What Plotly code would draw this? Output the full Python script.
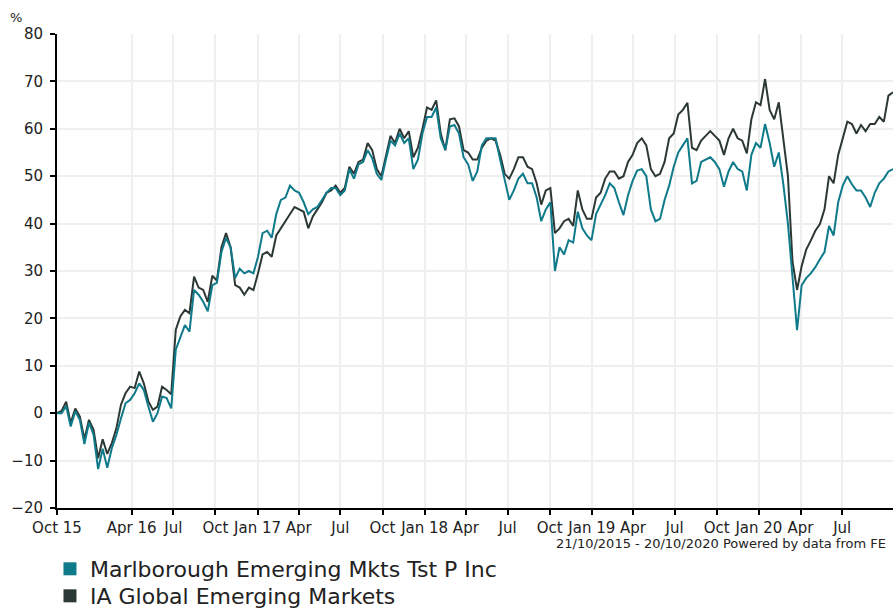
import pandas as pd
import plotly.graph_objects as go

# ---- data (~10-day sampling) ----
start_date = "2015-10-21"
end_date = "2020-10-20"

ia_global_em = [
    0, 0.5, 2.4, -2.1, 1.0, -0.7, -5.5, -1.4, -3.5, -9.5,
    -5.5, -8.6, -6.3, -3.2, 1.8, 4.2, 5.6, 5.3, 8.8, 6.3,
    2.5, 0.7, 1.4, 5.6, 4.9, 4.0, 17.6, 20.4, 21.8, 21.1,
    28.8, 26.5, 26, 23.5, 29, 28, 35, 38, 35, 27,
    26.5, 25, 26.5, 26, 29.5, 33.5, 34, 33, 37.5, 39,
    40.3, 42, 43.5, 43, 42.5, 39, 41.5, 43, 44.5, 46.5,
    47, 48, 46.5, 47.5, 52, 50.5, 53, 53.5, 57, 55.5,
    51.5, 50, 54.5, 58.5, 57, 60, 58, 59.5, 54, 56,
    60, 64.5, 64, 66, 59, 55.5, 62, 62.2, 60.5, 55.5,
    55, 53.5, 53.5, 56, 57.5, 58, 57.5, 54.5, 50.5, 49.5,
    51.5, 54, 54, 52, 51.5, 48.5, 44, 47, 47.5, 38,
    39, 40.5, 41, 39.5, 47, 43, 41, 41, 45.5, 46.5,
    49.5, 51, 51, 49.5, 50, 53, 54.5, 57, 58, 56.5,
    51.5, 50, 50.5, 53, 58, 59, 63, 64, 65.5, 56,
    55.5, 57.5, 58.5, 59.5, 58.5, 57.5, 54.5, 58, 60, 58,
    57.5, 54.8, 62, 65.6, 65, 70.5, 64, 62, 65.6, 57.5,
    50, 32, 26, 31, 34.5, 36.4, 38.5, 39.9, 43, 50,
    48.5, 54.5, 58, 61.5, 61, 59, 60.8, 59.5, 61, 61,
    62.5, 61.5, 67, 67.7,
]

marlborough_em = [
    0, 0, 1.5, -2.8, 0.4, -1.4, -6.5, -2.0, -4.5, -11.8,
    -7.5, -11.5, -7.4, -4.6, -1.1, 2.1, 2.8, 4.2, 6.3, 4.9,
    1.4, -1.8, 0, 3.5, 3.2, 1.0, 13.4, 16.2, 18.6, 17.2,
    26, 25, 23.5, 21.5, 27, 27.5, 34, 37, 35, 28.5,
    30.5, 29.5, 30, 29.5, 33, 38, 38.5, 37, 42, 45,
    45.5, 48, 47, 46.5, 44.5, 42, 43, 43.5, 45, 46.5,
    47.5, 47.5, 46, 47, 51.5, 49.5, 52.5, 53, 55.5, 53.8,
    50.5, 49.2, 53.5, 57.5, 56.5, 59, 57, 58, 51.5, 53.5,
    59, 62.5, 62.5, 64.5, 58, 55.5, 60.5, 60.8, 59, 54,
    52.5, 49, 51, 56.5, 58, 58, 58, 53.5, 49, 45,
    47, 49.5, 50.5, 48.5, 48.5, 45.5, 40.5, 43, 44.5, 30,
    35, 33.5, 36.5, 36, 42.5, 39, 37.5, 36.5, 42, 44,
    46, 48.5, 47.5, 44.5, 41.8, 46, 49, 51.2, 51.5, 50,
    43, 40.5, 41, 45, 48, 52, 55, 56.5, 58, 48.5,
    49, 53, 53.5, 54, 53, 51.5, 47.8, 51, 53, 51.5,
    51, 47, 54.5, 57, 56, 61, 57, 52, 55, 48.3,
    40, 28, 17.5, 27, 28.5, 29.5, 30.8, 32.5, 34, 39.5,
    37.5, 44.5, 48, 50, 48.3, 47, 47, 45.5, 43.5, 46.5,
    48.5, 49.5, 51, 51.5,
]

series_names = ["Marlborough Emerging Mkts Tst P Inc", "IA Global Emerging Markets"]

tick_dates = [
    "2015-10-21", "2016-04-01", "2016-07-01", "2016-10-01", "2017-01-01",
    "2017-04-01", "2017-07-01", "2017-10-01", "2018-01-01", "2018-04-01",
    "2018-07-01", "2018-10-01", "2019-01-01", "2019-04-01", "2019-07-01",
    "2019-10-01", "2020-01-01", "2020-04-01", "2020-07-01",
]
tick_labels = [
    "Oct 15", "Apr 16", "Jul", "Oct", "Jan 17", "Apr", "Jul", "Oct", "Jan 18",
    "Apr", "Jul", "Oct", "Jan 19", "Apr", "Jul", "Oct", "Jan 20", "Apr", "Jul",
]

footnote = "21/10/2015 - 20/10/2020 Powered by data from FE"

# ---- figure ----
dates = pd.date_range(start_date, end_date, periods=len(ia_global_em))

TEAL = "#0f7a8a"
DARK = "#2c3835"
FONT = "DejaVu Sans"
TXT = "#222222"

fig = go.Figure()
fig.add_trace(go.Scatter(x=dates, y=ia_global_em, mode="lines",
                         line=dict(color=DARK, width=2), showlegend=False))
fig.add_trace(go.Scatter(x=dates, y=marlborough_em, mode="lines",
                         line=dict(color=TEAL, width=2), showlegend=False))
# legend entries with square swatches (one legend per row)
for name, col, lg in zip(series_names, [TEAL, DARK], ["legend", "legend2"]):
    fig.add_trace(go.Scatter(x=[None], y=[None], mode="markers", name=name,
                             legend=lg,
                             marker=dict(symbol="square", size=13, color=col)))

legend_common = dict(xanchor="left", yanchor="middle",
                     font=dict(family=FONT, size=22, color=TXT),
                     bgcolor="rgba(0,0,0,0)", borderwidth=0)

fig.update_layout(
    width=894, height=608, autosize=False,
    margin=dict(l=57, r=1, t=34, b=100, autoexpand=False),
    paper_bgcolor="white", plot_bgcolor="white",
    font=dict(family=FONT, size=15, color=TXT),
    showlegend=True,
    legend=dict(x=-0.0084, y=-0.1287, **legend_common),
    legend2=dict(x=-0.0084, y=-0.1857, **legend_common),
    annotations=[
        dict(text="%", xref="paper", yref="paper", x=-0.049, y=1.034,
             xanchor="center", yanchor="middle", showarrow=False,
             font=dict(family=FONT, size=13, color=TXT)),
        dict(text=footnote, xref="paper", yref="paper", x=0.994, y=-0.0745,
             xanchor="right", yanchor="middle", showarrow=False,
             font=dict(family=FONT, size=13, color=TXT)),
    ],
)
fig.update_xaxes(
    type="date", range=[start_date, end_date],
    tickmode="array", tickvals=tick_dates, ticktext=tick_labels,
    showgrid=True, gridcolor="#efefef", gridwidth=2,
    showline=True, linecolor="black", linewidth=2,
    ticks="outside", ticklen=5, tickwidth=1.5, tickcolor="black",
    tickfont=dict(family=FONT, size=15, color=TXT), zeroline=False,
)
fig.update_yaxes(
    range=[-20, 80], dtick=10, tick0=0,
    showgrid=True, gridcolor="#efefef", gridwidth=2,
    showline=True, linecolor="black", linewidth=2,
    ticks="outside", ticklen=5, tickwidth=1.5, tickcolor="black",
    tickfont=dict(family=FONT, size=15, color=TXT), zeroline=False,
    ticklabelstandoff=4,
)

fig.write_html(
    "out.html",
    config={"displayModeBar": False},
    post_script=(
        "document.body.style.margin='0';"
        "document.body.style.overflow='hidden';"
        "document.documentElement.style.overflow='hidden';"
    ),
)
